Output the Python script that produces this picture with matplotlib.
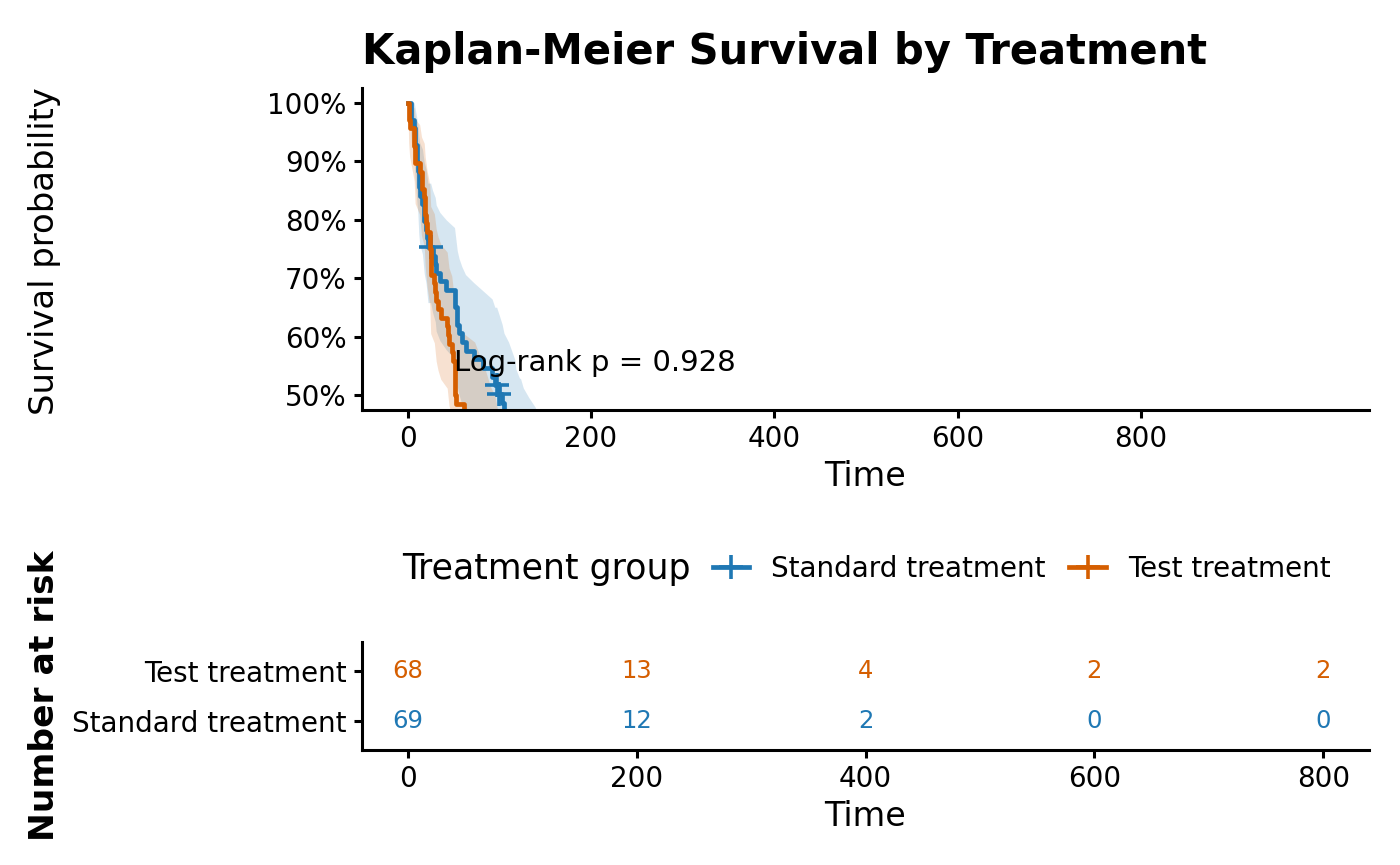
import numpy as np
import matplotlib
matplotlib.use("Agg")
import matplotlib.pyplot as plt
from matplotlib.lines import Line2D

plt.rcParams['font.family'] = ['DejaVu Sans']

# ---------------- data ----------------
groups = ["Standard treatment", "Test treatment"]
std_time = [3, 4, 7, 8, 8, 10, 10, 11, 12, 12, 13, 16, 18, 18, 20, 21, 22, 25, 27, 30,
            31, 35, 42, 51, 52, 54, 54, 56, 59, 63, 72, 82, 92, 95, 97, 100, 100, 103, 105, 110,
            117, 117, 118, 122, 123, 126, 132, 139, 143, 144, 151, 153, 156, 162, 162, 177, 182, 200, 216, 228,
            250, 260, 278, 287, 314, 384, 392, 411, 553]
std_status = [1, 1, 1, 1, 1, 1, 1, 1, 1, 1, 1, 1, 1, 1, 1, 1, 1, 0, 1, 1,
              1, 1, 1, 1, 1, 1, 1, 1, 1, 1, 1, 1, 1, 1, 0, 0, 1, 1, 1, 1,
              1, 1, 1, 1, 0, 1, 1, 1, 1, 1, 1, 1, 1, 1, 1, 1, 0, 1, 1, 1,
              1, 1, 1, 1, 1, 1, 1, 1, 1]
test_time = [1, 1, 2, 7, 7, 8, 8, 13, 15, 15, 18, 19, 19, 20, 21, 24, 24, 25, 25, 25,
             29, 30, 31, 33, 36, 43, 44, 45, 48, 49, 51, 51, 52, 52, 53, 61, 73, 80, 80, 83,
             84, 87, 87, 90, 95, 99, 99, 103, 111, 111, 112, 133, 140, 164, 186, 201, 231, 231, 242, 283,
             340, 357, 378, 389, 467, 587, 991, 999]
test_status = [1, 1, 1, 1, 1, 1, 1, 1, 1, 1, 1, 1, 1, 1, 1, 1, 1, 1, 1, 1,
               1, 1, 1, 1, 1, 1, 1, 1, 1, 1, 1, 1, 1, 1, 1, 1, 1, 1, 1, 0,
               1, 0, 1, 1, 1, 1, 1, 0, 1, 1, 1, 1, 1, 1, 1, 1, 0, 1, 1, 1,
               1, 1, 1, 1, 1, 1, 1, 1]
surv_ticks = [0.5, 0.6, 0.7, 0.8, 0.9, 1.0]
surv_tick_labels = ["50%", "60%", "70%", "80%", "90%", "100%"]
time_ticks = [0, 200, 400, 600, 800]
risk_std = [69, 12, 2, 0, 0]
risk_test = [68, 13, 4, 2, 2]
pval_text = "Log-rank p = 0.928"

col_std = "#1F78B4"
col_test = "#D55E00"


def km(times, status):
    t = np.asarray(times, float)
    s = np.asarray(status, int)
    surv, var = 1.0, 0.0
    xs, ys, lo, hi = [0.0], [1.0], [1.0], [1.0]
    cens = []
    for u in np.unique(t):
        d = np.sum((t == u) & (s == 1))
        c = np.sum((t == u) & (s == 0))
        nr = np.sum(t >= u)
        if d > 0:
            surv *= (nr - d) / nr
            if nr - d > 0:
                var += d / (nr * (nr - d))
        xs.append(u)
        ys.append(surv)
        if surv > 0:
            se = np.sqrt(var)
            lo.append(surv * np.exp(-1.96 * se))
            hi.append(min(1.0, surv * np.exp(1.96 * se)))
        else:
            lo.append(np.nan)
            hi.append(np.nan)
        if c > 0:
            cens.append((u, surv))
    return np.array(xs), np.array(ys), np.array(lo), np.array(hi), cens


W, H = 1400, 865
fig = plt.figure(figsize=(14, 8.65), dpi=100)

# ---------------- survival panel ----------------
ax = fig.add_axes([362 / W, 1 - 410 / H, (1369 - 362) / W, (410 - 88) / H])
for tt, ss, col in [(std_time, std_status, col_std), (test_time, test_status, col_test)]:
    x, y, lo, hi, cens = km(tt, ss)
    ax.fill_between(x, lo, hi, color=col, alpha=0.18, lw=0)
for tt, ss, col in [(std_time, std_status, col_std), (test_time, test_status, col_test)]:
    x, y, lo, hi, cens = km(tt, ss)
    ax.step(x, y, where="post", color=col, lw=3.4)
    if cens:
        cx, cy = zip(*cens)
        ax.plot(cx, cy, ls="none", marker="+", ms=17, mew=2.6, color=col)

ax.set_xlim(-49.95, 1048.95)
ax.set_ylim(0.475, 1.025)
ax.set_yticks(surv_ticks)
ax.set_yticklabels(surv_tick_labels)
ax.set_xticks(time_ticks)
ax.set_xticklabels([str(v) for v in time_ticks])
ax.text(50, 0.556, pval_text, fontsize=21, va="center", ha="left")
for sp in ["top", "right"]:
    ax.spines[sp].set_visible(False)
for sp in ["left", "bottom"]:
    ax.spines[sp].set_linewidth(2.2)
ax.tick_params(axis="both", length=6, width=2.2, labelsize=20, pad=5)
ax.set_xlabel("Time", fontsize=24, labelpad=5)

fig.text(45 / W, 1 - 251 / H, "Survival probability", rotation=90, fontsize=24.4,
         ha="center", va="center")
fig.text(362 / W, 1 - 64 / H, "Kaplan-Meier Survival by Treatment", fontsize=30,
         fontweight="bold", ha="left", va="baseline")

# ---------------- legend ----------------
fig.text(402 / W, 1 - 569 / H, "Treatment group", fontsize=25, ha="left", va="center")
handles = [Line2D([0], [0], color=c, lw=3.4, marker="+", ms=17, mew=2.6) for c in (col_std, col_test)]
fig.legend(handles, groups, ncol=2, loc="center left", bbox_to_anchor=(713 / W, 1 - 569 / H),
           frameon=False, fontsize=20, handlelength=1.3, handletextpad=0.8,
           columnspacing=0.85, borderpad=0, borderaxespad=0)

# ---------------- risk table ----------------
rx = fig.add_axes([362 / W, 1 - 750 / H, (1369 - 362) / W, (750 - 642) / H])
rx.set_xlim(-40, 840)
rx.set_ylim(0.4, 2.6)
for xv, n in zip(time_ticks, risk_std):
    rx.text(xv, 1, str(n), color=col_std, fontsize=17.5, ha="center", va="center")
for xv, n in zip(time_ticks, risk_test):
    rx.text(xv, 2, str(n), color=col_test, fontsize=17.5, ha="center", va="center")
rx.set_yticks([1, 2])
rx.set_yticklabels(groups)
rx.set_xticks(time_ticks)
rx.set_xticklabels([str(v) for v in time_ticks])
for sp in ["top", "right"]:
    rx.spines[sp].set_visible(False)
for sp in ["left", "bottom"]:
    rx.spines[sp].set_linewidth(2.2)
rx.tick_params(axis="both", length=6, width=2.2, labelsize=20, pad=5)
rx.set_xlabel("Time", fontsize=24, labelpad=5)
fig.text(45 / W, 1 - 696 / H, "Number at risk", rotation=90, fontsize=24.8,
         fontweight="bold", ha="center", va="center")

fig.savefig("out.png", dpi=100)
